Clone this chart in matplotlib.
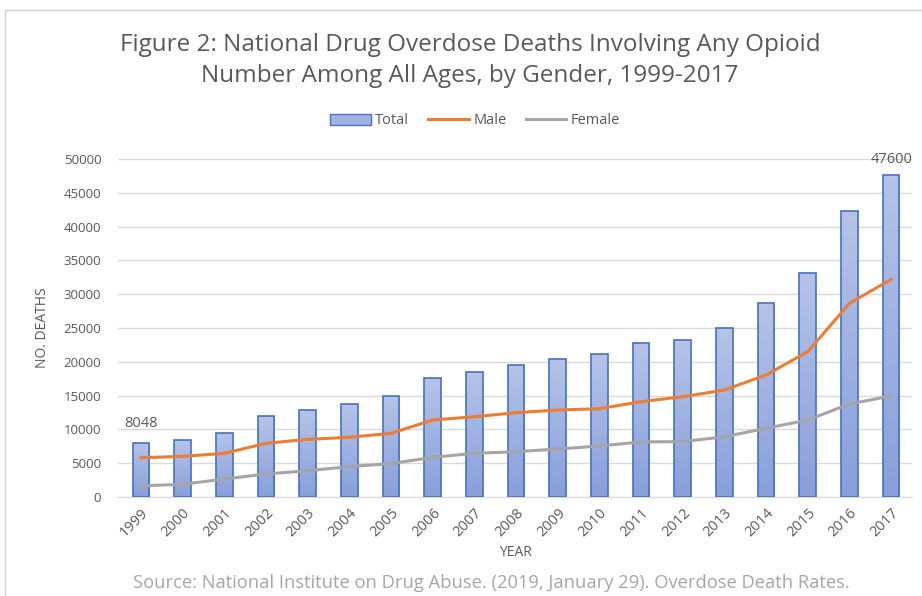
import matplotlib.pyplot as plt
import numpy as np
from matplotlib.patches import Rectangle
from matplotlib.colors import LinearSegmentedColormap

# data
years = list(range(1999, 2018))
total = [8048, 8407, 9496, 11920, 12940, 13756, 14918, 17545, 18516, 19582,
         20422, 21089, 22784, 23166, 25052, 28647, 33091, 42249, 47600]
male = [5810, 6010, 6460, 7940, 8530, 8830, 9420, 11390, 11880, 12470,
        12870, 13060, 14100, 14840, 15830, 18050, 21500, 28650, 32200]
female = [1650, 1880, 2660, 3400, 3890, 4490, 4950, 5870, 6460, 6700,
          7100, 7540, 8150, 8190, 8920, 10160, 11390, 13760, 14950]

plt.rcParams['font.family'] = ['Open Sans', 'DejaVu Sans']
grey = '#595959'

fig = plt.figure(figsize=(9.22, 5.96), dpi=100)
fig.patches.append(Rectangle((5 / 922, -0.1), 1.1, (596 - 10) / 596 + 0.1,
                             transform=fig.transFigure, fill=False,
                             edgecolor='#d0d0d0', linewidth=1))
ax = fig.add_axes([118 / 922, (596 - 497) / 596, (912 - 118) / 922, (497 - 159) / 596])

x = np.arange(len(years))
bars = ax.bar(x, total, width=0.4, color='none', edgecolor='#4472c4',
              linewidth=1.2, zorder=3, label='Total')
# gradient fill like the excel bars
grad = np.linspace(0, 1, 100).reshape(-1, 1)
cmap = LinearSegmentedColormap.from_list('bg', ['#889fdb', '#b5c3e6'])
for b in bars:
    bx, bw, bh = b.get_x(), b.get_width(), b.get_height()
    im = ax.imshow(grad, extent=[bx, bx + bw, 0, bh], origin='lower', cmap=cmap,
                   aspect='auto', zorder=2)
    im.set_clip_path(b)
bars_proxy = Rectangle((0, 0), 1, 1, facecolor='#a4b4e2', edgecolor='#4472c4')

l1, = ax.plot(x, male, color='#ed7d31', linewidth=2.2, zorder=4, label='Male')
l2, = ax.plot(x, female, color='#a5a5a5', linewidth=2.2, zorder=4, label='Female')

ax.set_xlim(-0.55, len(years) - 0.5)
ax.set_ylim(0, 50000)
ax.set_yticks(range(0, 50001, 5000))
ax.set_xticks(x)
ax.set_xticklabels([str(y) for y in years], rotation=45, ha='right',
                   rotation_mode='anchor', fontsize=10.5, color=grey)
ax.tick_params(axis='y', labelsize=9.5, labelcolor=grey, length=0, pad=12)
ax.tick_params(axis='x', length=0, pad=6)
ax.grid(axis='y', color='#d9d9d9', linewidth=1, zorder=0)
for s in ['top', 'right', 'left']:
    ax.spines[s].set_visible(False)
ax.spines['bottom'].set_color('#d9d9d9')

ax.annotate(str(total[0]), (x[0], total[0]), xytext=(0, 8), textcoords='offset points',
            ha='center', va='bottom', fontsize=10.5, color=grey)
ax.annotate(str(total[-1]), (x[-1], total[-1]), xytext=(0, 6), textcoords='offset points',
            ha='center', va='bottom', fontsize=10.5, color=grey)

ax.set_xlabel('YEAR', fontsize=10, color=grey, labelpad=4)
ax.set_ylabel('NO. DEATHS', fontsize=10, color=grey, labelpad=10)

fig.text(470 / 922, 1 - 45 / 596, 'Figure 2: National Drug Overdose Deaths Involving Any Opioid',
         ha='center', va='center', fontsize=17.5, color=grey)
fig.text(470 / 922, 1 - 76 / 596, 'Number Among All Ages, by Gender, 1999-2017',
         ha='center', va='center', fontsize=17.5, color=grey)

fig.legend([bars_proxy, l1, l2], ['Total', 'Male', 'Female'], loc='center',
           bbox_to_anchor=(475 / 922, 1 - 121 / 596), ncol=3, frameon=False,
           fontsize=10.5, labelcolor=grey, handlelength=2.8, handletextpad=0.3,
           columnspacing=1.3)

fig.text(491 / 922, 1 - 583 / 596,
         'Source: National Institute on Drug Abuse. (2019, January 29). Overdose Death Rates.',
         ha='center', va='center', fontsize=13.2, color='#a6a6a6')

fig.savefig('out.png', dpi=100)
